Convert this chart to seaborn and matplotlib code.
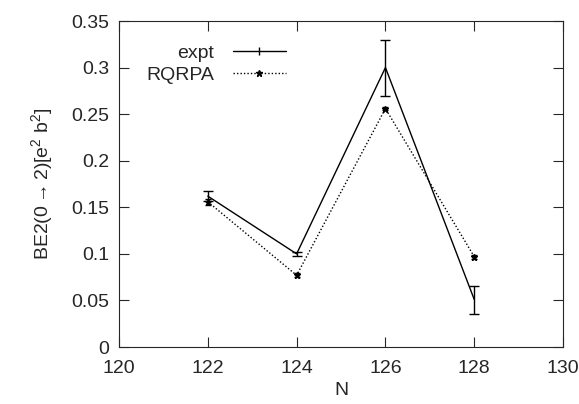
import matplotlib
matplotlib.use("Agg")
import matplotlib.pyplot as plt
import seaborn as sns
import pandas as pd
from matplotlib.lines import Line2D

# ========================================
# Data
# ========================================
n_vals = [122, 124, 126, 128]
expt = [0.162, 0.100, 0.300, 0.051]
expt_err = [0.005, 0.002, 0.030, 0.015]
rqrpa = [0.156, 0.077, 0.256, 0.097]
rqrpa_err = [0.003, 0.002, 0.002, 0.002]

df = pd.DataFrame({"N": n_vals * 2,
                   "BE2": expt + rqrpa,
                   "series": ["expt"] * 4 + ["RQRPA"] * 4})

# ========================================
# Plot
# ========================================
sns.set_style("ticks")
plt.rcParams['font.family'] = ['Liberation Sans', 'DejaVu Sans']
plt.rcParams['mathtext.fontset'] = 'custom'
plt.rcParams['mathtext.rm'] = 'Liberation Sans'
plt.rcParams['mathtext.it'] = 'Liberation Sans'

fig = plt.figure(figsize=(5.79, 4.04), dpi=100)
ax = fig.add_axes([0.2055, 0.141, 0.767, 0.807])

sns.lineplot(data=df, x="N", y="BE2", hue="series", style="series",
             palette={"expt": "black", "RQRPA": "black"},
             dashes={"expt": "", "RQRPA": (1, 1.5)},
             markers=False, linewidth=1.0, legend=False, ax=ax)

ax.errorbar(n_vals, expt, yerr=expt_err, fmt='none', ecolor='black',
            elinewidth=1.0, capsize=3.5, capthick=1.0)
ax.errorbar(n_vals, rqrpa, yerr=rqrpa_err, fmt='none', ecolor='black',
            elinewidth=1.0, capsize=2, capthick=1.0)
ax.plot(n_vals, rqrpa, linestyle='none', marker='*', color='black', markersize=5)

ax.set_xlim(120, 130)
ax.set_ylim(0, 0.35)
ax.set_xticks([120, 122, 124, 126, 128, 130])
ax.set_yticks([0, 0.05, 0.1, 0.15, 0.2, 0.25, 0.3, 0.35])
ax.set_yticklabels(['0', '0.05', '0.1', '0.15', '0.2', '0.25', '0.3', '0.35'])
ax.tick_params(direction='in', top=True, right=True, labelsize=14, length=7, width=0.8)
ax.tick_params(axis='x', pad=9)
ax.tick_params(axis='y', pad=7)
for s in ax.spines.values():
    s.set_linewidth(0.8)
ax.set_xlabel('N', fontsize=14, labelpad=4)
ax.set_ylabel(r'BE2(0$\rightarrow$2)[e$^2$ b$^2$]', fontsize=14, labelpad=12)

handles = [Line2D([0], [0], color='black', lw=1.0, marker='|', markersize=6),
           Line2D([0], [0], color='black', lw=1.0, linestyle=(0, (1, 1.5)),
                  marker='*', markersize=5)]
ax.legend(handles, ['expt', 'RQRPA'], loc='upper left', bbox_to_anchor=(0.03, 0.97),
          frameon=False, markerfirst=False, fontsize=14, handlelength=2.7,
          handletextpad=1.0, labelspacing=0.2, borderaxespad=0.3)

plt.savefig("out.png", dpi=100)
